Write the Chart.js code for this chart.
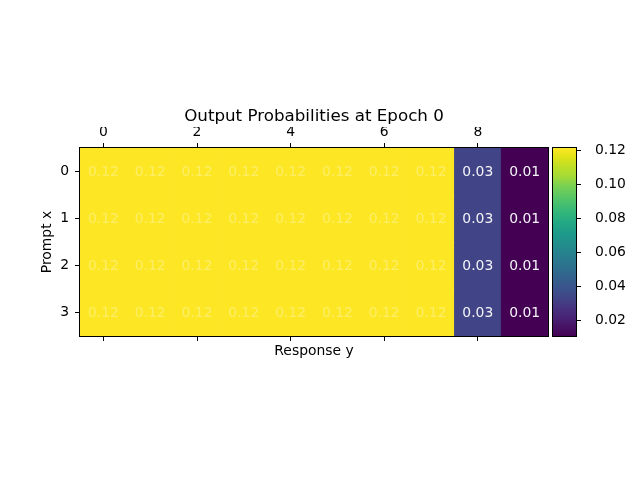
<!DOCTYPE html>
<html>
<head>
<meta charset="utf-8">
<script src="https://cdn.jsdelivr.net/npm/chart.js@4"></script>
<style>html, body { margin: 0; background: #fff; }</style>
</head>
<body>
<canvas id="myChart" width="640" height="480"></canvas>
<script>
// data
const responses = [0, 1, 2, 3, 4, 5, 6, 7, 8, 9];
const prompts = [0, 1, 2, 3];
const probs = [
  [0.1212, 0.1212, 0.1212, 0.1212, 0.1212, 0.1212, 0.1212, 0.1212, 0.0330, 0.0106],
  [0.1212, 0.1212, 0.1212, 0.1212, 0.1212, 0.1212, 0.1212, 0.1212, 0.0330, 0.0106],
  [0.1212, 0.1212, 0.1212, 0.1212, 0.1212, 0.1212, 0.1212, 0.1212, 0.0330, 0.0106],
  [0.1212, 0.1212, 0.1212, 0.1212, 0.1212, 0.1212, 0.1212, 0.1212, 0.0330, 0.0106]
];
const xTicks = [0, 2, 4, 6, 8];
const yTicks = [0, 1, 2, 3];
const cbTicks = [0.02, 0.04, 0.06, 0.08, 0.10, 0.12];

const viridis = ['#440154', '#471365', '#482475', '#46337f', '#414487', '#3b528b', '#355f8d',
  '#2f6c8e', '#2a788e', '#25848e', '#21918c', '#1e9b8a', '#22a884', '#2fb47c', '#44bf70',
  '#5ec962', '#7ad151', '#a5db36', '#bddf26', '#dfe318', '#fde725'];

function hexRgb(h) {
  return [1, 3, 5].map(i => parseInt(h.slice(i, i + 2), 16));
}
function viridisAt(t) {
  t = Math.min(1, Math.max(0, t));
  const f = t * (viridis.length - 1);
  const i = Math.min(viridis.length - 2, Math.floor(f));
  const a = hexRgb(viridis[i]), b = hexRgb(viridis[i + 1]);
  const k = f - i;
  const c = a.map((v, n) => Math.round(v + (b[n] - v) * k));
  return `rgb(${c[0]},${c[1]},${c[2]})`;
}

const all = probs.flat();
const vmin = Math.min(...all);
const vmax = Math.max(...all);

const FONT = 'DejaVu Sans';
Chart.defaults.font.family = FONT;
Chart.defaults.color = '#000';

const setTicks = list => s => { s.ticks = list.map(v => ({ value: v })); };

const heatPlugin = {
  id: 'heat',
  afterDatasetsDraw(chart) {
    const ctx = chart.ctx;
    ctx.save();
    ctx.font = `13.9px "${FONT}"`;
    ctx.textAlign = 'center';
    ctx.textBaseline = 'middle';
    chart.data.datasets.forEach((ds, i) => {
      chart.getDatasetMeta(i).data.forEach((bar, j) => {
        const v = probs[i][j];
        const p = bar.getCenterPoint();
        // white labels nearly vanish on the bright cells
        ctx.fillStyle = (v - vmin) / (vmax - vmin) > 0.5 ? 'rgba(255,255,255,0.3)' : '#f4f4f8';
        ctx.fillText(v.toFixed(2), p.x, p.y + 1);
      });
    });
    ctx.restore();
  },
  afterDraw(chart) {
    const ctx = chart.ctx;
    const a = chart.chartArea;
    const cb = chart.scales.cb;
    ctx.save();
    ctx.strokeStyle = '#000';
    ctx.lineWidth = 1;
    ctx.strokeRect(Math.round(a.left) - 0.5, Math.round(a.top) - 0.5,
      Math.round(a.width) + 1, Math.round(a.height) + 1);

    // colour bar
    const x0 = Math.round(a.right) + 5, w = 23;
    const g = ctx.createLinearGradient(0, cb.bottom, 0, cb.top);
    viridis.forEach((c, k) => g.addColorStop(k / (viridis.length - 1), c));
    ctx.fillStyle = g;
    ctx.fillRect(x0, cb.top, w, cb.bottom - cb.top);
    ctx.strokeRect(x0 - 0.5, Math.round(cb.top) - 0.5, w + 1, Math.round(cb.bottom - cb.top) + 1);
    ctx.beginPath();
    cb.ticks.forEach(t => {
      const y = Math.round(cb.getPixelForValue(t.value)) + 0.5;
      ctx.moveTo(x0 + w, y);
      ctx.lineTo(x0 + w + 5, y);
    });
    ctx.stroke();
    ctx.restore();
  }
};

const tickGrid = { drawOnChartArea: false, tickLength: 5, color: '#000', lineWidth: 1, offset: false };
const tickFont = { size: 13.9, family: FONT };

new Chart(document.getElementById('myChart'), {
  type: 'bar',
  data: {
    datasets: prompts.map((p, r) => ({
      data: responses.map(c => ({ x: c, y: [p - 0.5, p + 0.5] })),
      backgroundColor: probs[r].map(v => viridisAt((v - vmin) / (vmax - vmin))),
      borderWidth: 0,
      barPercentage: 1,
      categoryPercentage: 1,
      grouped: false,
      xAxisID: 'x',
      yAxisID: 'y'
    }))
  },
  options: {
    responsive: false,
    animation: false,
    events: [],
    layout: { padding: { top: 107, bottom: 120, left: 0, right: 0 } },
    plugins: {
      legend: { display: false },
      tooltip: { enabled: false },
      title: {
        display: true,
        text: 'Output Probabilities at Epoch 0',
        font: { size: 16.7, family: FONT, weight: 'normal' },
        color: '#000',
        padding: { top: 0, bottom: 0 },
        fullSize: false
      }
    },
    scales: {
      x: {
        type: 'linear', position: 'top', min: -0.5, max: 9.5, bounds: 'data', offset: false,
        afterBuildTicks: setTicks(xTicks),
        ticks: { font: tickFont, padding: 2, autoSkip: false, maxRotation: 0, callback: v => String(v) },
        grid: tickGrid,
        border: { display: false },
        afterFit: s => { s.height = 21; }
      },
      xb: {
        type: 'linear', axis: 'x', position: 'bottom', min: -0.5, max: 9.5, bounds: 'data', offset: false,
        afterBuildTicks: setTicks(xTicks),
        ticks: { display: false },
        grid: tickGrid,
        border: { display: false },
        title: { display: true, text: 'Response y', font: tickFont, padding: 0 },
        afterFit: s => { s.height = 24; }
      },
      y: {
        type: 'linear', position: 'left', reverse: true, min: -0.5, max: 3.5, bounds: 'data', offset: false,
        afterBuildTicks: setTicks(yTicks),
        ticks: { font: tickFont, padding: 6, autoSkip: false, callback: v => String(v) },
        grid: tickGrid,
        border: { display: false },
        title: { display: true, text: 'Prompt x', font: tickFont, padding: { top: 39, bottom: 0 } },
        afterFit: s => { s.width = 80; }
      },
      cb: {
        type: 'linear', axis: 'y', position: 'right', min: vmin, max: vmax, bounds: 'data',
        afterBuildTicks: setTicks(cbTicks),
        ticks: { font: tickFont, padding: 39, autoSkip: false, callback: v => v.toFixed(2) },
        grid: { display: false },
        border: { display: false },
        afterFit: s => { s.width = 92; }
      }
    }
  },
  plugins: [heatPlugin]
});
</script>
</body>
</html>
